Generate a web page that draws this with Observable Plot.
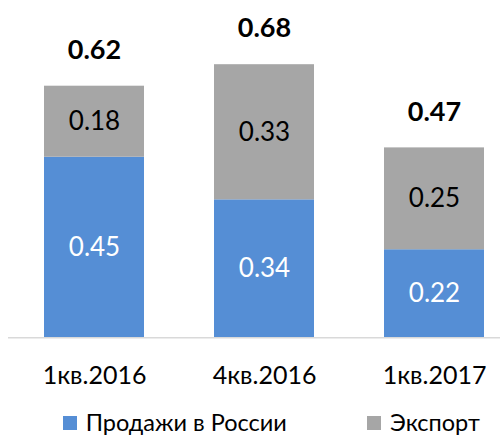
<!DOCTYPE html>
<html><head><meta charset="utf-8">
<script src="https://cdn.jsdelivr.net/npm/d3@7"></script>
<script src="https://cdn.jsdelivr.net/npm/@observablehq/plot@0.6"></script>
<style>
body{margin:0;background:#fff;font-family:Lato,sans-serif;}
#wrap{position:relative;width:502px;height:436px;overflow:hidden;}
#wrap svg{position:absolute;left:0;top:0;}
.leg{position:absolute;top:409px;height:26px;font-size:23.5px;line-height:26px;display:flex;align-items:center;color:#000;white-space:nowrap;}
.sw{width:14px;height:14px;margin-right:9px;margin-top:2px;}
</style></head><body><div id="wrap"></div>
<script>
const categories = ["1кв.2016", "4кв.2016", "1кв.2017"];
const seriesNames = ["Продажи в России", "Экспорт"];
const russia = [0.445, 0.34, 0.217];
const exportV = [0.175, 0.333, 0.251];
const russiaLabels = ["0.45", "0.34", "0.22"];
const exportLabels = ["0.18", "0.33", "0.25"];
const totalLabels = ["0.62", "0.68", "0.47"];
const colors = ["#558ED5", "#A6A6A6"];

const rows = [];
categories.forEach((c, i) => {
  rows.push({cat: c, series: seriesNames[0], value: russia[i]});
  rows.push({cat: c, series: seriesNames[1], value: exportV[i]});
});
const labelsR = categories.map((c, i) => ({cat: c, y: russia[i] / 2, text: russiaLabels[i]}));
const labelsE = categories.map((c, i) => ({cat: c, y: russia[i] + exportV[i] / 2, text: exportLabels[i]}));
const totals = categories.map((c, i) => ({cat: c, y: russia[i] + exportV[i], text: totalLabels[i]}));

const chart = Plot.plot({
  width: 502,
  height: 400,
  marginLeft: 8,
  marginRight: 2,
  marginTop: 0,
  marginBottom: 62.7,
  style: {fontFamily: "Lato, sans-serif", background: "white", overflow: "visible"},
  x: {domain: categories, range: [7.75, 519.25], paddingInner: 0.4135, paddingOuter: 0.2067, label: null},
  y: {domain: [0, 0.8312], axis: null},
  color: {domain: seriesNames, range: colors},
  marks: [
    Plot.barY(rows, {x: "cat", y: "value", fill: "series"}),
    Plot.ruleY([0], {stroke: "#D9D9D9", strokeWidth: 1.5}),
    Plot.text(labelsR, {x: "cat", y: "y", text: "text", fill: "white", fontSize: 26}),
    Plot.text(labelsE, {x: "cat", y: "y", text: "text", fill: "black", fontSize: 26}),
    Plot.text(totals, {x: "cat", y: "y", text: "text", fill: "black", fontSize: 27, fontWeight: "bold", dy: -36}),
    Plot.axisX({tickSize: 0, tickPadding: 28, fontSize: 25, label: null, color: "black"})
  ]
});
const wrap = document.getElementById("wrap");
wrap.appendChild(chart);
const legPos = [62.7, 367];
seriesNames.forEach((s, i) => {
  const d = document.createElement("div");
  d.className = "leg";
  d.style.left = legPos[i] + "px";
  d.innerHTML = `<span class="sw" style="background:${colors[i]}"></span><span>${s}</span>`;
  wrap.appendChild(d);
});
</script></body></html>
